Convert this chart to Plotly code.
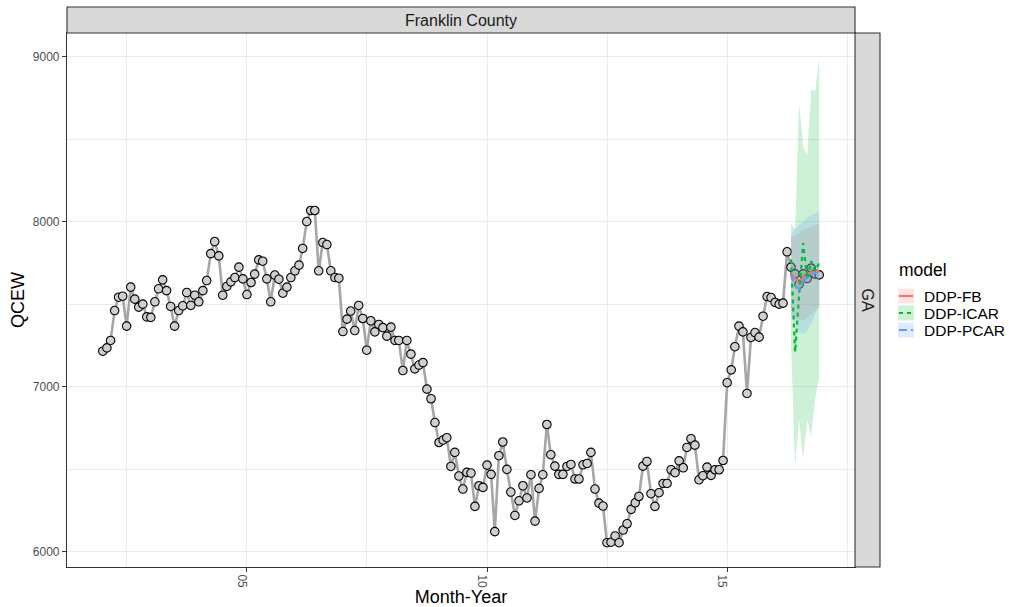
import pandas as pd
import plotly.graph_objects as go

# ---------------------------------------------------------------- data
county = "Franklin County"
state = "GA"
first_month = "2002-01-01"

# Monthly QCEW employment, Jan 2002 - Dec 2016
qcew = [
    7215, 7235, 7280, 7461, 7542, 7548, 7367, 7603, 7530, 7482,
    7500, 7423, 7420, 7514, 7593, 7647, 7582, 7486, 7367, 7461,
    7490, 7570, 7492, 7554, 7514, 7582, 7643, 7806, 7879, 7792,
    7554, 7607, 7635, 7661, 7724, 7653, 7558, 7631, 7682, 7768,
    7760, 7653, 7514, 7676, 7651, 7566, 7603, 7661, 7702, 7736,
    7837, 8000, 8067, 8067, 7702, 7873, 7861, 7702, 7661, 7657,
    7334, 7409, 7458, 7340, 7492, 7413, 7221, 7399, 7332, 7377,
    7358, 7306, 7361, 7280, 7280, 7098, 7280, 7197, 7108, 7131,
    7146, 6985, 6927, 6783, 6662, 6677, 6691, 6517, 6602, 6459,
    6380, 6481, 6477, 6275, 6400, 6390, 6525, 6469, 6122, 6582,
    6665, 6499, 6362, 6220, 6309, 6400, 6326, 6467, 6186, 6384,
    6467, 6771, 6588, 6519, 6469, 6469, 6517, 6529, 6441, 6441,
    6527, 6535, 6602, 6380, 6295, 6277, 6055, 6058, 6096, 6055,
    6132, 6170, 6257, 6297, 6335, 6519, 6547, 6352, 6275, 6358,
    6414, 6414, 6497, 6479, 6551, 6509, 6632, 6685, 6646, 6436,
    6461, 6513, 6463, 6497, 6497, 6553, 7024, 7102, 7242, 7367,
    7332, 6959, 7298, 7328, 7300, 7427, 7546, 7540, 7510, 7500,
    7506, 7817, 7724, 7683, 7619, 7683, 7655, 7718, 7682, 7677,
]

# Model predictions for the held-out months (May - Dec 2016)
forecast_first = "2016-05-01"
models = ["DDP-FB", "DDP-ICAR", "DDP-PCAR"]
pred_mean = {
    "DDP-FB":   [7690, 7650, 7630, 7660, 7680, 7690, 7700, 7700],
    "DDP-ICAR": [7770, 7210, 7550, 7870, 7650, 7760, 7700, 7750],
    "DDP-PCAR": [7680, 7610, 7590, 7640, 7660, 7680, 7690, 7690],
}
pred_lower = {
    "DDP-FB":   [7450, 7420, 7400, 7400, 7420, 7440, 7460, 7480],
    "DDP-ICAR": [7250, 6515, 6800, 6560, 6800, 6700, 6930, 7060],
    "DDP-PCAR": [7420, 7380, 7330, 7320, 7340, 7380, 7440, 7500],
}
pred_upper = {
    "DDP-FB":   [7900, 7920, 7930, 7950, 7960, 7970, 7980, 7990],
    "DDP-ICAR": [7990, 7950, 8720, 8450, 8400, 8800, 8790, 8995],
    "DDP-PCAR": [7920, 7960, 7980, 8000, 8020, 8040, 8050, 8060],
}

x_breaks = ["2005-01-01", "2010-01-01", "2015-01-01"]
x_labels = ["05", "10", "15"]
x_minor = ["2002-07-02", "2007-07-02", "2012-07-02", "2017-07-02"]
y_breaks = [6000, 7000, 8000, 9000]
y_minor = [6500, 7500, 8500]

# ---------------------------------------------------------------- styling
colors = {"DDP-FB": "#F8766D", "DDP-ICAR": "#00BA38", "DDP-PCAR": "#619CFF"}
fills = {"DDP-FB": "rgba(248,118,109,0.2)",
         "DDP-ICAR": "rgba(0,186,56,0.2)",
         "DDP-PCAR": "rgba(97,156,255,0.2)"}
dashes = {"DDP-FB": "solid", "DDP-ICAR": "4px,4px", "DDP-PCAR": "8px,4px"}
FONT = "Liberation Sans, Arial, Helvetica, sans-serif"

W, H = 1009, 607
L, R, T, B = 67, 855, 33, 567   # panel box in pixels


def px_x(p):
    return (p - L) / (R - L)


def px_y(p):
    return (B - p) / (B - T)


months = pd.date_range(first_month, periods=len(qcew), freq="MS")
fc_months = pd.date_range(forecast_first, periods=len(pred_mean["DDP-FB"]), freq="MS")

fig = go.Figure()

# observed series
fig.add_trace(go.Scatter(
    x=months, y=qcew, mode="lines",
    line=dict(color="#A6A6A6", width=2.6),
    showlegend=False, hoverinfo="skip"))
fig.add_trace(go.Scatter(
    x=months, y=qcew, mode="markers",
    marker=dict(size=8.5, color="#CFCFCF", line=dict(color="black", width=1.1)),
    showlegend=False, name="QCEW"))

# prediction intervals
band_x = list(fc_months) + list(fc_months[::-1])
for m in models:
    fig.add_trace(go.Scatter(
        x=band_x, y=pred_upper[m] + pred_lower[m][::-1],
        fill="toself", fillcolor=fills[m], line=dict(width=0),
        mode="lines", showlegend=False, hoverinfo="skip"))

# predicted means
for m in models:
    fig.add_trace(go.Scatter(
        x=fc_months, y=pred_mean[m], mode="lines", name=m,
        line=dict(color=colors[m], width=2.2, dash=dashes[m]),
        showlegend=False))

# axis ranges with 5% expansion
span = months[-1] - months[0]
x_range = [months[0] - span * 0.05, months[-1] + span * 0.05]
all_y = qcew + sum(pred_lower.values(), []) + sum(pred_upper.values(), [])
y_lo, y_hi = min(all_y), max(all_y)
pad = (y_hi - y_lo) * 0.05
y_range = [y_lo - pad, y_hi + pad]

grid = "#EBEBEB"
axis_common = dict(
    showline=True, linecolor="#333333", linewidth=1.1, mirror=True,
    ticks="outside", ticklen=4, tickcolor="#333333", tickwidth=1.1,
    showgrid=True, gridcolor=grid, gridwidth=1.1, zeroline=False,
    automargin=False,
    tickfont=dict(family=FONT, size=12, color="#4D4D4D"),
)

fig.update_layout(
    width=W, height=H,
    margin=dict(l=L, r=W - R, t=T, b=H - B),
    paper_bgcolor="white", plot_bgcolor="white",
    font=dict(family=FONT),
    showlegend=False,
    xaxis=dict(
        axis_common, type="date", range=x_range,
        tickmode="array", tickvals=x_breaks, ticktext=x_labels, tickangle=90,
        ticklabelshift=-5,
        minor=dict(tickmode="array", tickvals=x_minor, showgrid=True,
                   gridcolor=grid, gridwidth=0.6, ticks=""),
        title=dict(text="Month-Year", font=dict(family=FONT, size=18, color="black"),
                   standoff=4),
    ),
    yaxis=dict(
        axis_common, range=y_range,
        tickmode="array", tickvals=y_breaks,
        minor=dict(tickmode="array", tickvals=y_minor, showgrid=True,
                   gridcolor=grid, gridwidth=0.6, ticks=""),
        title=dict(text="QCEW", font=dict(family=FONT, size=18, color="black"),
                   standoff=3),
    ),
)

# facet strips
strip_fill, strip_line = "#D9D9D9", "#333333"
fig.add_shape(type="rect", xref="paper", yref="paper",
              x0=0, x1=1, y0=1, y1=px_y(7),
              fillcolor=strip_fill, line=dict(color=strip_line, width=1.1))
fig.add_shape(type="rect", xref="paper", yref="paper",
              x0=1, x1=px_x(880), y0=0, y1=1,
              fillcolor=strip_fill, line=dict(color=strip_line, width=1.1))
fig.add_annotation(text=county, xref="paper", yref="paper",
                   x=0.5, y=px_y(20), xanchor="center", yanchor="middle",
                   showarrow=False,
                   font=dict(family=FONT, size=16, color="#1A1A1A"))
fig.add_annotation(text=state, xref="paper", yref="paper",
                   x=px_x(867.5), y=0.5, xanchor="center", yanchor="middle",
                   showarrow=False, textangle=90,
                   font=dict(family=FONT, size=16, color="#1A1A1A"))

# legend
fig.add_annotation(text="model", xref="paper", yref="paper",
                   x=px_x(897), y=px_y(270), xanchor="left", yanchor="middle",
                   showarrow=False, font=dict(family=FONT, size=17.5, color="black"))
key_centres = [296, 313, 330]
for m, yc in zip(models, key_centres):
    fig.add_shape(type="rect", xref="paper", yref="paper",
                  x0=px_x(898), x1=px_x(914), y0=px_y(yc + 7.5), y1=px_y(yc - 7.5),
                  fillcolor=fills[m], line=dict(width=0))
    fig.add_shape(type="line", xref="paper", yref="paper",
                  x0=px_x(899), x1=px_x(913), y0=px_y(yc), y1=px_y(yc),
                  line=dict(color=colors[m], width=2.2, dash=dashes[m]))
    fig.add_annotation(text=m, xref="paper", yref="paper",
                       x=px_x(922), y=px_y(yc), xanchor="left", yanchor="middle",
                       showarrow=False, font=dict(family=FONT, size=15.5, color="black"))

fig.write_html("out.html")
